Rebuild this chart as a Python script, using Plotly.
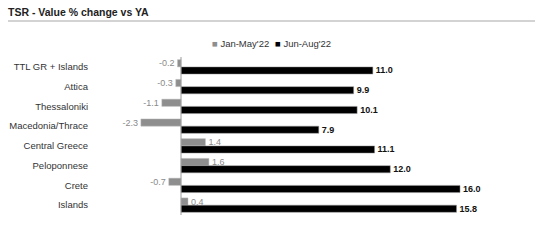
import plotly.graph_objects as go

categories = ["TTL GR + Islands", "Attica", "Thessaloniki", "Macedonia/Thrace",
              "Central Greece", "Peloponnese", "Crete", "Islands"]
jan_may = [-0.2, -0.3, -1.1, -2.3, 1.4, 1.6, -0.7, 0.4]
jun_aug = [11.0, 9.9, 10.1, 7.9, 11.1, 12.0, 16.0, 15.8]
series_names = ["Jan-May'22", "Jun-Aug'22"]
series_colors = ["#8e8e8e", "#000000"]

FONT = "Liberation Sans, Arial, sans-serif"
W, H = 539, 246
L, R, T, B = 89, 20, 57, 31

fig = go.Figure()
fig.add_trace(go.Bar(
    y=categories, x=jan_may, orientation="h", name=series_names[0],
    marker=dict(color=series_colors[0], line=dict(color="#bdbdbd", width=0.5)),
    text=[f"{v:.1f}" for v in jan_may], textposition="outside", constraintext="none",
    textfont=dict(color="#8a8a8a", size=9, family=FONT), cliponaxis=False,
    showlegend=False,
))
fig.add_trace(go.Bar(
    y=categories, x=jun_aug, orientation="h", name=series_names[1],
    marker=dict(color=series_colors[1], line=dict(color="#9a9a9a", width=0.5)),
    text=[f"<b>{v:.1f}</b>" for v in jun_aug], textposition="outside", constraintext="none",
    textfont=dict(color="#111111", size=9, family=FONT), cliponaxis=False,
    showlegend=False,
))

pw = W - L - R
ph = H - T - B

def px_x(p):
    return (p - L) / pw

def px_y(p):
    return (H - B - p) / ph

# x range such that zero sits at 181px and 17.44px per unit
ppu = 17.44
x_min = -(181 - L) / ppu
x_max = (W - R - 181) / ppu

legend_x = [210, 273]
annotations = []
for name, col, lx in zip(series_names, series_colors, legend_x):
    annotations.append(dict(
        xref="paper", yref="paper", x=px_x(lx), y=px_y(43), xanchor="left", yanchor="middle",
        text=f"<span style='color:{col}'>■</span> {name}", showarrow=False,
        font=dict(size=9.5, color="#333333", family=FONT),
    ))

fig.update_layout(
    width=W, height=H, margin=dict(l=L, r=R, t=T, b=B, autoexpand=False),
    paper_bgcolor="white", plot_bgcolor="white",
    barmode="group", bargap=0.27, bargroupgap=0.0,
    font=dict(family=FONT, size=9.5, color="#333333"),
    title=dict(text="<b>TSR - Value % change vs YA</b>", xref="container", yref="container",
               x=8 / W, xanchor="left", y=1 - 12 / H, yanchor="middle",
               font=dict(size=10.5, color="#222222", family=FONT)),
    xaxis=dict(range=[x_min, x_max], showgrid=False, zeroline=False, automargin=False,
               showticklabels=False, ticks="", fixedrange=True),
    yaxis=dict(autorange="reversed", showgrid=False, zeroline=False, ticks="", automargin=False,
               tickfont=dict(size=9.5, color="#333333", family=FONT)),
    annotations=annotations,
    shapes=[
        dict(type="line", xref="paper", yref="paper",
             x0=px_x(8), x1=px_x(535), y0=px_y(21), y1=px_y(21),
             line=dict(color="#a8a8a8", width=1.2)),
        dict(type="line", xref="x", yref="paper", x0=0, x1=0, y0=0, y1=1,
             line=dict(color="#9a9a9a", width=1)),
    ],
)

fig.write_html("out.html")
